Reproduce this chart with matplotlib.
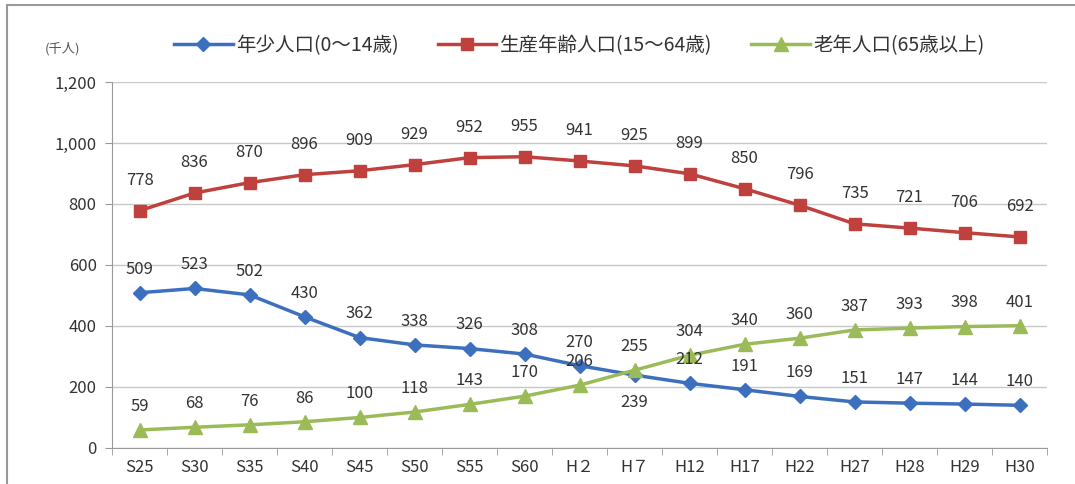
import matplotlib
matplotlib.use("Agg")
import numpy as np
from matplotlib import pyplot as plt
from matplotlib.patches import Rectangle

plt.rcParams["font.family"] = ["Noto Sans CJK JP", "DejaVu Sans"]

# Categories (Japanese era years)
years = ["S25", "S30", "S35", "S40", "S45", "S50", "S55", "S60", "H２", "H７",
         "H12", "H17", "H22", "H27", "H28", "H29", "H30"]

# Population by age group (thousand people)
young = [509, 523, 502, 430, 362, 338, 326, 308, 270, 239, 212, 191, 169, 151, 147, 144, 140]
working = [778, 836, 870, 896, 909, 929, 952, 955, 941, 925, 899, 850, 796, 735, 721, 706, 692]
elderly = [59, 68, 76, 86, 100, 118, 143, 170, 206, 255, 304, 340, 360, 387, 393, 398, 401]

labels = ["年少人口(0～14歳)", "生産年齢人口(15～64歳)", "老年人口(65歳以上)"]

blue = "#3d6fbf"
red = "#c0403d"
green = "#9bbb59"

fig = plt.figure(figsize=(10.75, 4.84), dpi=100)
ax = fig.add_axes([0.1042, 0.0744, 0.8698, 0.7562])

x = np.arange(len(years))
ax.plot(x, young, color=blue, lw=2.5, marker="D", ms=7, label=labels[0])
ax.plot(x, working, color=red, lw=2.5, marker="s", ms=9, label=labels[1])
ax.plot(x, elderly, color=green, lw=2.5, marker="^", ms=10, label=labels[2])

# data labels
fs = 12
for i in range(len(years)):
    ax.annotate(str(working[i]), (x[i], working[i]), xytext=(0, 22), textcoords="offset points",
                ha="center", va="center", fontsize=fs, color="#333333")
    dy = -20 if years[i] == "H７" else 17
    ax.annotate(str(young[i]), (x[i], young[i]), xytext=(0, dy), textcoords="offset points",
                ha="center", va="center", fontsize=fs, color="#333333")
    ax.annotate(str(elderly[i]), (x[i], elderly[i]), xytext=(0, 17), textcoords="offset points",
                ha="center", va="center", fontsize=fs, color="#333333")

ax.set_xlim(-0.5, len(years) - 0.5)
ax.set_ylim(0, 1200)
ax.set_yticks(np.arange(0, 1201, 200))
ax.set_yticklabels([f"{v:,}" for v in range(0, 1201, 200)])
ax.set_xticks(x)
ax.set_xticklabels(years)
ax.set_xticks(np.arange(-0.5, len(years), 1), minor=True)
ax.tick_params(axis="x", which="major", length=0, pad=8, labelsize=fs, colors="#333333")
ax.tick_params(axis="x", which="minor", length=5, color="#999999")
ax.tick_params(axis="y", length=5, color="#999999", labelsize=fs, labelcolor="#333333", pad=6)

ax.grid(axis="y", color="#c8c8c8", lw=1)
ax.set_axisbelow(True)
for s in ["top", "right"]:
    ax.spines[s].set_visible(False)
ax.spines["left"].set_color("#999999")
ax.spines["bottom"].set_color("#999999")

fig.text(0.058, 0.90, "(千人)", fontsize=9.5, color="#555555", ha="center", va="center")

ax.legend(loc="center", bbox_to_anchor=(0.50, 1.10), ncol=3, frameon=False,
          fontsize=14, handlelength=3.0, handletextpad=0.2, columnspacing=2.0,
          labelcolor="#333333")

# outer border
fig.patches.append(Rectangle((0.0065, -0.01), 1.2, 1.0, transform=fig.transFigure,
                             fill=False, edgecolor="#9a9a9a", lw=1.5))

fig.savefig("out.png", dpi=100)
